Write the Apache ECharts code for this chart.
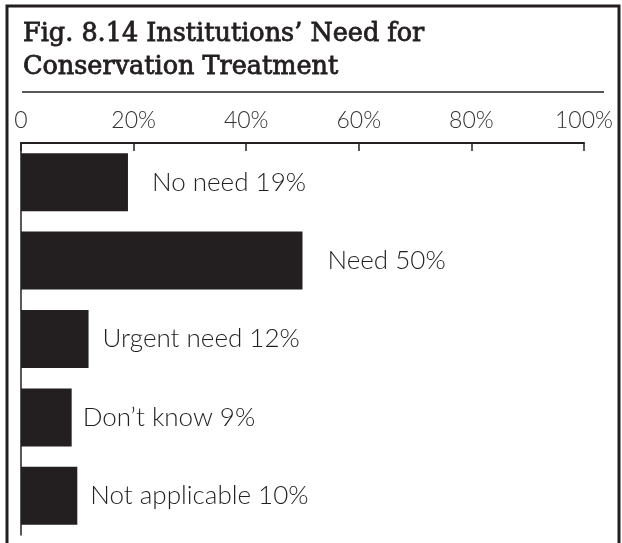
<!DOCTYPE html>
<html>
<head>
<meta charset="utf-8">
<script src="https://cdn.jsdelivr.net/npm/echarts@6/dist/echarts.min.js"></script>
<style>
  html, body { margin: 0; padding: 0; background: #ffffff; }
  #chart { width: 622px; height: 543px; }
</style>
</head>
<body>
<div id="chart"></div>
<script>
// Survey answers and their shares (percent)
const categories = ['No need', 'Need', 'Urgent need', 'Don\u2019t know', 'Not applicable'];
const shares = [19, 50, 12, 9, 10];
const tickLabels = ['0', '20%', '40%', '60%', '80%', '100%'];

// Gap between each bar end and its label (px)
const labelGaps = [24, 25, 14, 11, 13];

const ink = '#231f20';
const sans = 'Lato, "Open Sans", sans-serif';

const chart = echarts.init(document.getElementById('chart'), null, { renderer: 'canvas' });

chart.setOption({
  animation: false,
  backgroundColor: '#ffffff',
  title: {
    text: 'Fig. 8.14 Institutions\u2019 Need for\nConservation Treatment',
    left: 23,
    top: 18,
    padding: 0,
    textStyle: {
      fontFamily: '"DejaVu Serif", serif',
      fontWeight: 'normal',
      fontSize: 25.5,
      lineHeight: 33,
      color: ink,
      textBorderColor: ink,
      textBorderWidth: 0.8
    }
  },
  grid: { left: 21, top: 143, width: 563, height: 392 },
  xAxis: {
    type: 'value',
    position: 'top',
    min: 0,
    max: 100,
    interval: 20,
    axisLine: { show: true, lineStyle: { color: ink, width: 2 } },
    axisTick: { show: true, inside: true, length: 8, lineStyle: { color: ink, width: 1.5 } },
    splitLine: { show: false },
    axisLabel: {
      margin: 11,
      fontFamily: sans,
      fontWeight: 300,
      fontSize: 23,
      color: '#333333',
      formatter: function (v) { return tickLabels[Math.round(v / 20)]; }
    }
  },
  yAxis: {
    type: 'category',
    inverse: true,
    data: categories,
    axisLine: { show: true, lineStyle: { color: ink, width: 1.5 } },
    axisTick: { show: false },
    axisLabel: { show: false }
  },
  series: [{
    type: 'bar',
    barCategoryGap: '26%',
    itemStyle: { color: ink },
    data: shares.map(function (v, i) {
      return { value: v, label: { distance: labelGaps[i] } };
    }),
    label: {
      show: true,
      position: 'right',
      fontFamily: sans,
      fontWeight: 300,
      fontSize: 26,
      color: ink,
      formatter: function (p) { return p.name + ' ' + p.value + '%'; }
    }
  }],
  graphic: [
    {
      type: 'polyline',
      shape: { points: [[7, 560], [7, 6], [619, 6], [619, 560]] },
      style: { stroke: ink, lineWidth: 3, fill: null }
    },
    {
      type: 'line',
      shape: { x1: 22, y1: 92, x2: 604, y2: 92 },
      style: { stroke: ink, lineWidth: 1.5 }
    }
  ]
});
</script>
</body>
</html>
